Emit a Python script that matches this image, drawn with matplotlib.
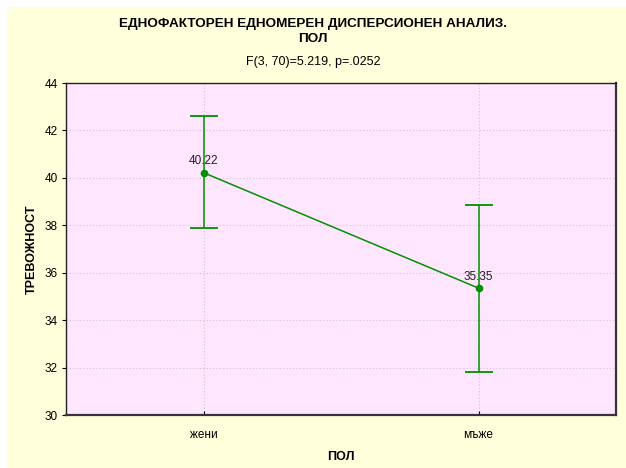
import matplotlib
matplotlib.use("Agg")
import matplotlib.pyplot as plt
from matplotlib.patches import Rectangle
import numpy as np

plt.rcParams['font.family'] = ['Liberation Sans', 'DejaVu Sans']

# data
groups = ['жени', 'мъже']
means = [40.22, 35.35]
upper = [42.59, 38.86]
lower = [37.87, 31.81]

title = 'ЕДНОФАКТОРЕН ЕДНОМЕРЕН ДИСПЕРСИОНЕН АНАЛИЗ.'
title2 = 'ПОЛ'
subtitle = 'F(3, 70)=5.219, p=.0252'

green = '#009000'

fig = plt.figure(figsize=(6.26, 4.68), dpi=100, facecolor='white')
# yellow panel (white strip on top and left)
fig.patches.append(Rectangle((7 / 626, 0), 1, 1 - 7 / 468, transform=fig.transFigure,
                             facecolor='#FFFFDC', edgecolor='none', zorder=0))

ax = fig.add_axes([66 / 626, 1 - 415 / 468, 550 / 626, 332 / 468])
ax.set_zorder(2)
ax.set_facecolor('#FFE6FF')

x = np.arange(len(groups))
m = np.array(means)
err = [m - np.array(lower), np.array(upper) - m]
ax.errorbar(x, m, yerr=err, color=green, lw=1.1, capsize=10, capthick=1.3,
            marker='o', ms=4.5, zorder=3)
for xi, v in zip(x, means):
    ax.annotate(f'{v:.2f}', (xi, v), xytext=(0, 4), textcoords='offset points',
                ha='center', va='bottom', fontsize=8.5, color='#202020', zorder=4)

ax.set_xlim(-0.5, 1.5)
ax.set_ylim(30, 44)
ax.set_yticks(range(30, 45, 2))
ax.set_xticks(x)
ax.set_xticklabels(groups)
ax.tick_params(labelsize=8.5, length=3, color='black', pad=3)
ax.tick_params(axis='x', direction='in', pad=10)
ax.grid(True, color='#C8C8C8', ls=(0, (1, 2)), lw=0.8)
ax.set_axisbelow(True)
for s in ax.spines.values():
    s.set_color('#202020')
    s.set_linewidth(1)
ax.spines['right'].set_color('#3A3040')
ax.spines['bottom'].set_color('#3A3040')
ax.spines['right'].set_linewidth(1.6)
ax.spines['bottom'].set_linewidth(1.6)

ax.set_xlabel('ПОЛ', fontsize=9, fontweight='bold', labelpad=7)
ax.set_ylabel('ТРЕВОЖНОСТ', fontsize=9, fontweight='bold', labelpad=5)

fig.text(0.5, 1 - 24 / 468, title, ha='center', va='center', fontsize=9.7,
         fontweight='bold')
fig.text(0.5, 1 - 39 / 468, title2, ha='center', va='center', fontsize=9.7,
         fontweight='bold')
fig.text(0.5, 1 - 62 / 468, subtitle, ha='center', va='center', fontsize=9)

fig.savefig('out.png', dpi=100, facecolor=fig.get_facecolor())
